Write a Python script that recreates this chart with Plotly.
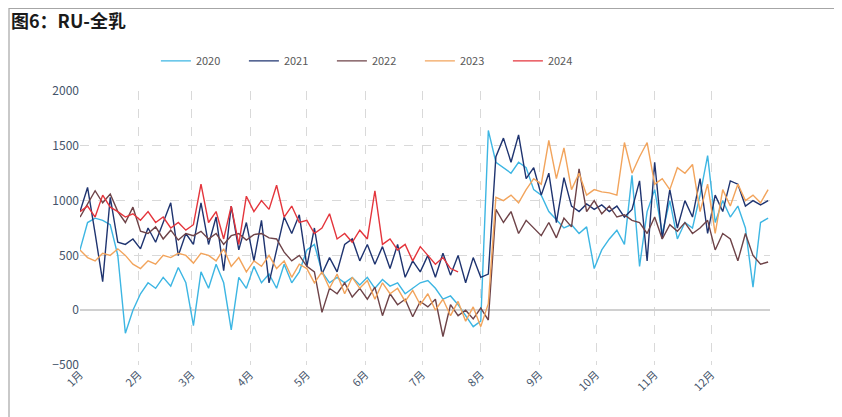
import pandas as pd
import plotly.graph_objects as go

# sampled every 4 days from Jan 1
s2020 = [550, 800, 840, 820, 780, 500, -210, 0, 150, 250, 200, 300, 220, 390, 250, -140,
         350, 200, 420, 250, -180, 300, 200, 400, 250, 330, 200, 420, 250, 350, 550, 600,
         350, 250, 300, 250, 300, 230, 300, 200, 280, 220, 250, 150, 200, 250, 270, 200,
         100, 130, 50, -50, -150, -100, 1640, 1350, 1300, 1250, 1350, 1300, 1100, 1050,
         900, 820, 750, 780, 700, 760, 380, 550, 650, 730, 600, 1230, 400, 900, 1100,
         700, 1000, 650, 800, 750, 1050, 1410, 800, 1000, 850, 950, 750, 210, 800, 840]
s2021 = [900, 1120, 700, 260, 1030, 620, 600, 650, 560, 750, 620, 800, 980, 500, 700, 600,
         980, 600, 850, 360, 950, 550, 800, 450, 820, 250, 550, 850, 700, 870, 400, 750,
         330, 480, 350, 600, 650, 450, 600, 420, 580, 380, 600, 300, 450, 350, 500, 300,
         520, 320, 500, 250, 480, 300, 330, 1400, 1570, 1350, 1600, 1200, 1300, 1050,
         1250, 800, 1210, 950, 900, 970, 920, 960, 900, 950, 850, 920, 1180, 450, 1350,
         650, 1100, 750, 1000, 850, 1200, 700, 1050, 900, 1180, 1150, 950, 1000, 960, 1000]
s2022 = [850, 970, 1090, 980, 1060, 900, 800, 940, 720, 700, 760, 650, 730, 640, 700, 680,
         720, 650, 700, 600, 680, 700, 640, 690, 700, 660, 650, 530, 450, 500, 400, 350,
         -20, 200, 150, 250, 120, 200, 100, 210, -50, 150, 50, 100, -60, 80, 30, 100,
         -240, 50, -50, 0, -80, 20, -90, 920, 800, 900, 700, 820, 750, 680, 800, 660,
         840, 760, 1290, 900, 1000, 880, 950, 850, 870, 820, 800, 700, 850, 650, 780,
         720, 800, 700, 750, 820, 550, 700, 650, 450, 700, 500, 420, 440]
s2023 = [550, 480, 450, 520, 500, 560, 500, 420, 380, 450, 420, 500, 480, 520, 500, 430,
         520, 500, 450, 560, 400, 480, 350, 450, 400, 500, 380, 450, 300, 420, 380, 250,
         350, 200, 330, 150, 300, 200, 270, 100, 250, 150, 200, 80, 180, 50, 150, 0,
         100, -50, 80, -100, 30, -150, 60, 1030, 1000, 1050, 980, 1100, 1200, 1150, 1550,
         1200, 1480, 1100, 1250, 1050, 1100, 1080, 1070, 1050, 1530, 1250, 1400, 1530,
         1150, 1200, 1100, 1300, 1250, 1330, 900, 1150, 700, 1100, 950, 1150, 1000, 1050,
         980, 1100]
s2024 = [900, 950, 850, 1050, 940, 900, 850, 880, 820, 900, 800, 850, 750, 800, 730, 780,
         1150, 800, 900, 650, 950, 600, 1040, 900, 1000, 920, 1140, 850, 950, 800, 820, 700,
         750, 880, 650, 700, 620, 730, 650, 1090, 600, 650, 550, 600, 450, 580, 500, 420,
         480, 380, 350]

years = ["2020", "2021", "2022", "2023", "2024"]
series = [s2020, s2021, s2022, s2023, s2024]
colors = ["#3DB6E3", "#1F3470", "#6E4348", "#F2A45C", "#E4353C"]
month_labels = ["1月", "2月", "3月", "4月", "5月", "6月", "7月", "8月", "9月", "10月", "11月", "12月", ""]

tickvals = list(pd.date_range("2023-01-01", periods=13, freq="MS"))

fig = go.Figure()
for name, vals, col in zip(years, series, colors):
    x = pd.date_range("2023-01-01", periods=len(vals), freq="4D")
    fig.add_trace(go.Scatter(x=x, y=vals, mode="lines", name=name,
                             line=dict(color=col, width=1.4)))

fig.update_layout(
    width=834, height=409,
    margin=dict(l=72, r=72, t=83, b=52, autoexpand=False),
    paper_bgcolor="white", plot_bgcolor="white",
    font=dict(family="Noto Sans CJK SC, Noto Sans, sans-serif", color="#44546A", size=12),
    showlegend=True,
    legend=dict(orientation="h", x=0.110, y=1.11, xanchor="left", yanchor="middle",
                entrywidth=43, entrywidthmode="pixels",
                font=dict(size=11, color="#595959"), bgcolor="rgba(0,0,0,0)"),
    annotations=[dict(text="<b>图6：RU-全乳</b>", xref="paper", yref="paper",
                      x=-0.103, y=1.258, xanchor="left", yanchor="middle", showarrow=False,
                      font=dict(size=18, color="#1a1a1a",
                                family="Noto Sans CJK SC, sans-serif"))],
    shapes=[dict(type="rect", xref="paper", yref="paper", x0=-0.1029, x1=1.0942,
                 y0=-0.25, y1=1.3011, line=dict(color="#A6A6A6", width=1.2), layer="below")],
)
fig.update_xaxes(range=["2023-01-01", "2024-01-01"], tickvals=tickvals, ticktext=month_labels,
                 tickangle=-45, showgrid=True, gridcolor="#D9D9D9", griddash="dash",
                 gridwidth=1, zeroline=False, showline=False, ticks="",
                 tickfont=dict(size=11, color="#44546A"))
fig.update_yaxes(range=[-500, 2000], dtick=500, showgrid=True, gridcolor="#D9D9D9",
                 griddash="dash", zeroline=True, zerolinecolor="#D0D0D0", zerolinewidth=1.5,
                 showline=False, ticks="", tickfont=dict(size=12, color="#44546A"))

fig.write_html("out.html")
